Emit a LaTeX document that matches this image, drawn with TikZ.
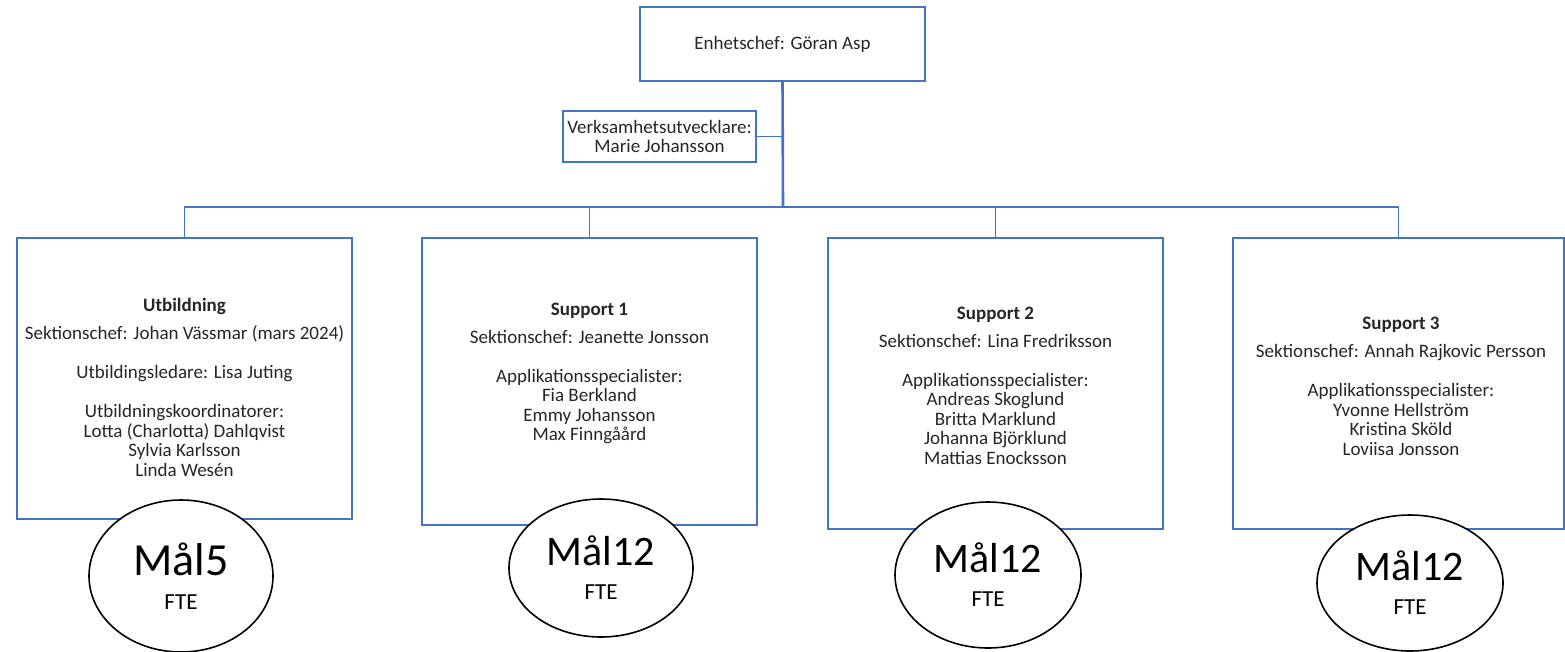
\documentclass[tikz,border=0pt]{standalone}
\usepackage{fontspec}
\setmainfont{Carlito}
\usetikzlibrary{shapes.geometric}
\definecolor{orgblue}{RGB}{68,114,196}
\definecolor{txtgray}{RGB}{38,38,38}
\begin{document}
\begin{tikzpicture}[x=1pt, y=-1pt,
  unit/.style={rectangle, draw=orgblue, line width=1.6pt, fill=white, text=txtgray, align=center, inner sep=0pt, font=\fontsize{19}{19.5}\selectfont},
  txt/.style={text=txtgray, align=center, inner sep=0pt, font=\fontsize{19}{19.5}\selectfont},
  conn/.style={draw=orgblue, line width=1.6pt},
  trunk/.style={draw=orgblue, line width=2.6pt},
  goal/.style={ellipse, draw=black, line width=1.6pt, fill=white, align=center, inner sep=0pt, font=\fontsize{23}{34}\selectfont}
]
  \useasboundingbox (0,0) rectangle (1565,651);

  \node[unit, minimum width=285, minimum height=74] (chef) at (782.5,44) {Enhetschef: Göran Asp};
  \node[unit, minimum width=193, minimum height=51] (verk) at (659.5,136.5) {Verksamhetsutvecklare:\\Marie Johansson};
  \coordinate (bus) at (783,207);

  % sections
  \node[unit, minimum width=335, minimum height=281] (utb) at (184.5,378.5) {};
  \node[unit, minimum width=335, minimum height=287] (sup1) at (589.5,381.5) {};
  \node[unit, minimum width=335, minimum height=291] (sup2) at (995.5,383.5) {};
  \node[unit, minimum width=331, minimum height=291] (sup3) at (1398.5,383.5) {};

  \node[txt] (utbtxt) at (184.5,387.5) {%
    \textbf{Utbildning}\\[8.5pt]
    Sektionschef: Johan Vässmar (mars 2024)\\[19.5pt]
    Utbildingsledare: Lisa Juting\\[19.5pt]
    Utbildningskoordinatorer:\\
    Lotta (Charlotta) Dahlqvist\\
    Sylvia Karlsson\\
    Linda Wesén};
  \node[txt] (sup1txt) at (589.5,373.5) {%
    \textbf{Support 1}\\[8.5pt]
    Sektionschef: Jeanette Jonsson\\[19.5pt]
    Applikationsspecialister:\\
    Fia Berkland\\
    Emmy Johansson\\
    Max Finngåård};
  \node[txt] (sup2txt) at (995.5,385.5) {%
    \textbf{Support 2}\\[8.5pt]
    Sektionschef: Lina Fredriksson\\[19.5pt]
    Applikationsspecialister:\\
    Andreas Skoglund\\
    Britta Marklund\\
    Johanna Björklund\\
    Mattias Enocksson};
  \node[txt] (sup3txt) at (1401,386.5) {%
    \textbf{Support 3}\\[8.5pt]
    Sektionschef: Annah Rajkovic Persson\\[19.5pt]
    Applikationsspecialister:\\
    Yvonne Hellström\\
    Kristina Sköld\\
    Loviisa Jonsson};

  % connectors
  \draw[trunk] (chef.south) -- (bus);
  \draw[conn] (verk.east) -- (verk.east -| bus);
  \draw[conn] (utb.north) |- (bus);
  \draw[conn] (sup1.north) |- (bus);
  \draw[conn] (sup2.north) |- (bus);
  \draw[conn] (sup3.north) |- (bus);

  % FTE goals
  \node[goal, minimum width=184, minimum height=152] (mal1) at (181,576) {{\fontsize{46}{34}\selectfont Mål5}\\FTE};
  \node[goal, minimum width=184, minimum height=138] (mal2) at (601,568) {{\fontsize{42}{33}\selectfont Mål12}\\FTE};
  \node[goal, minimum width=186, minimum height=146] (mal3) at (988,575) {{\fontsize{42}{33}\selectfont Mål12}\\FTE};
  \node[goal, minimum width=186, minimum height=136] (mal4) at (1410,583) {{\fontsize{42}{33}\selectfont Mål12}\\FTE};
\end{tikzpicture}
\end{document}
